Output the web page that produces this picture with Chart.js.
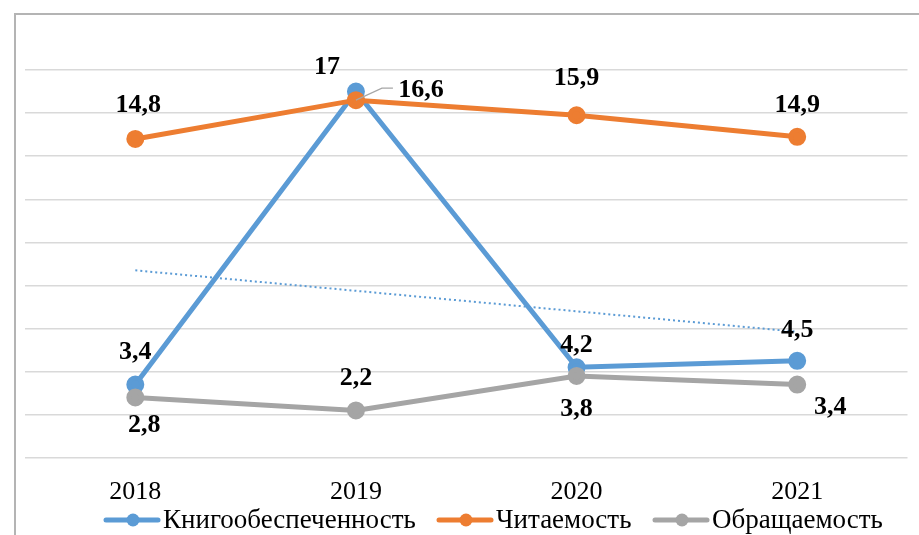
<!DOCTYPE html>
<html>
<head>
<meta charset="utf-8">
<script src="https://cdn.jsdelivr.net/npm/chart.js@4.4.1/dist/chart.umd.min.js"></script>
<style>
  body { margin: 0; background: #ffffff; }
  #wrap { width: 919px; height: 535px; position: relative; }
</style>
</head>
<body>
<div id="wrap"><canvas id="libChart"></canvas></div>
<script>
// ==============================
// DATA
// ==============================
const years = ["2018", "2019", "2020", "2021"];
const knigoValues = [3.4, 17, 4.2, 4.5];
const chitValues = [14.8, 16.6, 15.9, 14.9];
const obrValues = [2.8, 2.2, 3.8, 3.4];
// пунктирная линия тренда (по картинке)
const trendValues = [8.7, 7.75, 6.8, 5.85];

const knigoName = "Книгообеспеченность";
const chitName = "Читаемость";
const obrName = "Обращаемость";

const BLUE = "#5b9bd5";
const ORANGE = "#ed7d31";
const GREY = "#a5a5a5";
const SERIF = "'Liberation Serif', 'Times New Roman', serif";

// сдвиг подписей относительно точки (dx, dy)
const labelOffsets = [
  [[0, -32], [-29, -24], [0, -22], [0, -31]],   // Книгообеспеченность
  [[3, -34], [65, -10], [0, -37], [0, -32]],    // Читаемость
  [[9, 28], [0, -32], [0, 33], [33, 23]],       // Обращаемость
];

// ==============================
// PLUGIN: рамка, подписи, легенда
// ==============================
const decorPlugin = {
  id: "decor",
  beforeDraw(chart) {
    const c = chart.ctx;
    c.save();
    c.fillStyle = "#ffffff";
    c.fillRect(0, 0, chart.width, chart.height);
    c.strokeStyle = "#b4b4b4";
    c.lineWidth = 2;
    c.strokeRect(15, 14, 1000, 1000);
    c.restore();
  },
  afterDatasetsDraw(chart) {
    const c = chart.ctx;
    c.save();
    c.font = "bold 26px " + SERIF;
    c.fillStyle = "#000000";
    c.textAlign = "center";
    c.textBaseline = "middle";
    [0, 1, 2].forEach((di) => {
      const meta = chart.getDatasetMeta(di);
      const vals = chart.data.datasets[di].data;
      meta.data.forEach((pt, i) => {
        const off = labelOffsets[di][i];
        const txt = String(vals[i]).replace(".", ",");
        c.fillText(txt, pt.x + off[0], pt.y + off[1]);
      });
    });
    // выноска для 16,6
    const p = chart.getDatasetMeta(1).data[1];
    c.strokeStyle = "#a6a6a6";
    c.lineWidth = 1.2;
    c.beginPath();
    c.moveTo(p.x, p.y);
    c.lineTo(p.x + 26, p.y - 12);
    c.lineTo(p.x + 37, p.y - 12);
    c.stroke();

    // легенда
    const items = [
      { name: knigoName, color: BLUE, x: 106 },
      { name: chitName, color: ORANGE, x: 439 },
      { name: obrName, color: GREY, x: 655 },
    ];
    const ly = 520;
    c.font = "27px " + SERIF;
    c.textAlign = "left";
    items.forEach((it) => {
      c.strokeStyle = it.color;
      c.lineWidth = 5;
      c.lineCap = "round";
      c.beginPath();
      c.moveTo(it.x, ly);
      c.lineTo(it.x + 52, ly);
      c.stroke();
      c.fillStyle = it.color;
      c.beginPath();
      c.arc(it.x + 27, ly, 6.5, 0, Math.PI * 2);
      c.fill();
      c.fillStyle = "#000000";
      c.fillText(it.name, it.x + 57, ly + 1);
    });
    c.restore();
  },
};

// ==============================
// CHART
// ==============================
const ctx = document.getElementById("libChart").getContext("2d");
const lineChart = new Chart(ctx, {
  type: "line",
  data: {
    labels: years,
    datasets: [
      {
        label: knigoName,
        data: knigoValues,
        borderColor: BLUE,
        backgroundColor: BLUE,
        borderWidth: 5,
        pointRadius: 6.5,
        tension: 0,
        order: 3,
      },
      {
        label: chitName,
        data: chitValues,
        borderColor: ORANGE,
        backgroundColor: ORANGE,
        borderWidth: 5,
        pointRadius: 6.5,
        tension: 0,
        order: 2,
      },
      {
        label: obrName,
        data: obrValues,
        borderColor: GREY,
        backgroundColor: GREY,
        borderWidth: 5,
        pointRadius: 6.5,
        tension: 0,
        order: 1,
      },
      {
        label: "trend",
        data: trendValues,
        borderColor: BLUE,
        borderWidth: 2,
        borderDash: [2, 3],
        pointRadius: 0,
        tension: 0,
        order: 4,
      },
    ],
  },
  options: {
    responsive: true,
    maintainAspectRatio: false,
    animation: false,
    layout: { padding: { left: 25, right: 11, top: 70, bottom: 16 } },
    scales: {
      x: {
        offset: true,
        grid: { display: false },
        border: { display: false },
        ticks: { color: "#000000", font: { family: SERIF, size: 26 }, padding: 11 },
      },
      y: {
        min: 0,
        max: 18,
        ticks: { display: false, stepSize: 2 },
        grid: { color: "#d9d9d9", lineWidth: 1.5, drawTicks: false },
        border: { display: false },
      },
    },
    plugins: {
      legend: { display: false },
      tooltip: { enabled: false },
    },
  },
  plugins: [decorPlugin],
});
</script>
</body>
</html>
